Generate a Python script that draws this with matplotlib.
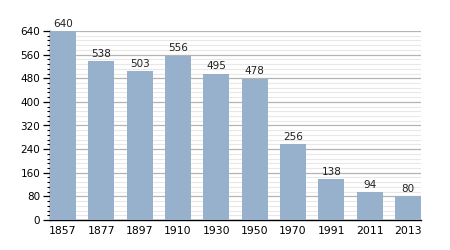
import matplotlib.pyplot as plt
from matplotlib.ticker import MultipleLocator

years = ["1857", "1877", "1897", "1910", "1930", "1950", "1970", "1991", "2011", "2013"]
population = [640, 538, 503, 556, 495, 478, 256, 138, 94, 80]

bar_color = "#97b0cc"
width = 0.68

fig = plt.figure(figsize=(4.5, 2.5), dpi=100)
ax = fig.add_axes([50 / 450, 30 / 250, 371 / 450, 189 / 250])

x = range(len(years))
bars = ax.bar(x, population, width=width, color=bar_color, zorder=3)
for xi, v in zip(x, population):
    ax.text(xi, v + 8, str(v), ha="center", va="bottom", fontsize=7.5, color="#222222")

ax.set_xlim(-width / 2, len(years) - 1 + width / 2)
ax.set_ylim(0, 640)
ax.set_xticks(list(x))
ax.set_xticklabels(years)
ax.yaxis.set_major_locator(MultipleLocator(80))
ax.yaxis.set_minor_locator(MultipleLocator(16))

ax.grid(axis="y", which="major", color="#b4b4b4", linewidth=0.9, zorder=0)
ax.grid(axis="y", which="minor", color="#e8e8e8", linewidth=0.8, zorder=0)

for side in ["top", "right"]:
    ax.spines[side].set_visible(False)
ax.spines["left"].set_linewidth(1.0)
ax.spines["bottom"].set_linewidth(1.0)
ax.tick_params(axis="x", length=0, labelsize=7.8, pad=4)
ax.tick_params(axis="y", which="major", length=5, width=0.9, labelsize=7.5, pad=2)
ax.tick_params(axis="y", which="minor", length=2.5, width=0.8)

fig.savefig("out.png", dpi=100)
